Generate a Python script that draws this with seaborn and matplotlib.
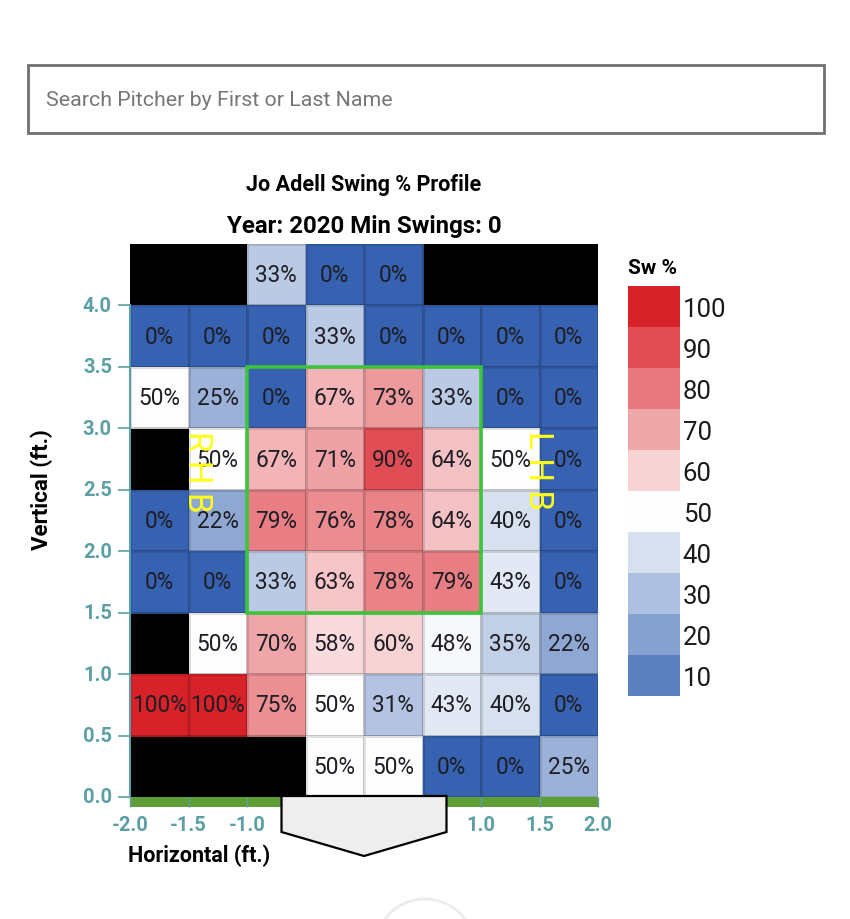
import numpy as np
import pandas as pd
import matplotlib
matplotlib.use("Agg")
import matplotlib.pyplot as plt
import seaborn as sns
from matplotlib.colors import LinearSegmentedColormap
from matplotlib.patches import Rectangle, Polygon, Ellipse

plt.rcParams['font.family'] = ['Roboto', 'DejaVu Sans']

# ---------------- data ----------------
x_edges = [-2.0, -1.5, -1.0, -0.5, 0.0, 0.5, 1.0, 1.5, 2.0]
y_edges = [4.5, 4.0, 3.5, 3.0, 2.5, 2.0, 1.5, 1.0, 0.5, 0.0]   # top to bottom
x_tick_labels = ["-2.0", "-1.5", "-1.0", "-0.5", "0.0", "0.5", "1.0", "1.5", "2.0"]
y_tick_labels = ["4.0", "3.5", "3.0", "2.5", "2.0", "1.5", "1.0", "0.5", "0.0"]
nan = np.nan
row_40_45 = [nan, nan, 33, 0, 0, nan, nan, nan]
row_35_40 = [0, 0, 0, 33, 0, 0, 0, 0]
row_30_35 = [50, 25, 0, 67, 73, 33, 0, 0]
row_25_30 = [nan, 50, 67, 71, 90, 64, 50, 0]
row_20_25 = [0, 22, 79, 76, 78, 64, 40, 0]
row_15_20 = [0, 0, 33, 63, 78, 79, 43, 0]
row_10_15 = [nan, 50, 70, 58, 60, 48, 35, 22]
row_05_10 = [100, 100, 75, 50, 31, 43, 40, 0]
row_00_05 = [nan, nan, nan, 50, 50, 0, 0, 25]
legend_values = [100, 90, 80, 70, 60, 50, 40, 30, 20, 10]
strike_zone_x = (-1.0, 1.0)
strike_zone_y = (1.5, 3.5)
plate_x = (-0.705, 0.705)

rows = [row_40_45, row_35_40, row_30_35, row_25_30, row_20_25,
        row_15_20, row_10_15, row_05_10, row_00_05]
df = pd.DataFrame(rows, index=y_edges[1:], columns=x_edges[:-1])
annot = df.map(lambda v: "" if pd.isna(v) else f"{int(v)}%")

cmap = LinearSegmentedColormap.from_list("sw", ["#3662b1", "#ffffff", "#d8222a"])
teal = "#5c9fa5"

W, H = 850, 920
fig = plt.figure(figsize=(W / 100, H / 100), dpi=100)

def fx(px):
    return px / W

def fy(py):
    return 1 - py / H

# search box
fig.patches.append(Rectangle((fx(28), fy(134)), fx(824) - fx(28), fy(66) - fy(134),
                             transform=fig.transFigure, fill=False,
                             edgecolor="#707070", lw=2))
fig.text(fx(46), fy(100), "Search Pitcher by First or Last Name", color="#767676",
         fontsize=15.4, ha="left", va="center")

# titles
fig.text(fx(364), fy(185), "Jo Adell Swing % Profile", fontsize=15.5,
         fontweight="bold", ha="center", va="center")
fig.text(fx(364), fy(226), "Year: 2020 Min Swings: 0", fontsize=17.3,
         fontweight="bold", ha="center", va="center")

# main heatmap
ax = fig.add_axes([fx(130), fy(798), fx(598) - fx(130), fy(245) - fy(798)])
ax.set_facecolor("black")
sns.heatmap(df, ax=ax, cmap=cmap, vmin=0, vmax=100, cbar=False,
            annot=annot.values, fmt="",
            annot_kws=dict(fontsize=16.3, color="#1e1e24"),
            linewidths=0.8, linecolor=(0, 0, 0, 0.12))

dx = x_edges[1] - x_edges[0]
dy = y_edges[0] - y_edges[1]

def xi(v):
    return (v - x_edges[0]) / dx

def yi(v):
    return (y_edges[0] - v) / dy

ax.set_xticks([xi(v) for v in x_edges])
ax.set_xticklabels(x_tick_labels)
ax.set_yticks([yi(v) for v in y_edges[1:]])
ax.set_yticklabels(y_tick_labels, rotation=0)
ax.tick_params(axis="x", colors=teal, length=7.2, width=1, pad=6, labelsize=14.5, rotation=0)
ax.tick_params(axis="y", colors=teal, length=9, width=1.2, pad=4, labelsize=14.5)
for t in ax.get_xticklabels() + ax.get_yticklabels():
    t.set_fontweight("bold")
ax.set_xlabel("")
ax.set_ylabel("")
ax.spines["left"].set_visible(True)
ax.spines["left"].set_color(teal)
ax.spines["left"].set_linewidth(1.5)
ax.spines["left"].set_bounds(yi(4.0), yi(0.0))

# green ground strip
row_px = (798 - 245) / len(rows)
strip_h = 10 / row_px
ax.add_patch(Rectangle((0, len(rows)), len(x_edges) - 1, strip_h, facecolor="#5f9e34",
                       edgecolor="none", clip_on=False, zorder=1.2))

# strike zone
ax.add_patch(Rectangle((xi(strike_zone_x[0]), yi(strike_zone_y[1])),
                       xi(strike_zone_x[1]) - xi(strike_zone_x[0]),
                       yi(strike_zone_y[0]) - yi(strike_zone_y[1]),
                       fill=False, edgecolor="#3cc43c", lw=2.6, zorder=6))

# batter side labels
ax.text(xi(-1.43), yi(3.0) + 0.02, "R H B", rotation=-90, color="#ffff1a", fontsize=24,
        fontweight="normal", ha="center", va="top", zorder=7)
ax.text(xi(1.485), yi(3.0) + 0.02, "L H B", rotation=-90, color="#ffff1a", fontsize=24,
        fontweight="normal", ha="center", va="top", zorder=7)

# home plate
ybase = len(rows)
plate = Polygon([(xi(plate_x[0]), ybase - 1 / row_px), (xi(plate_x[1]), ybase - 1 / row_px),
                 (xi(plate_x[1]), ybase + 35 / row_px), (xi(0.0), ybase + 59 / row_px),
                 (xi(plate_x[0]), ybase + 35 / row_px)],
                closed=True, facecolor="#eeeeee", edgecolor="black", lw=1.6,
                clip_on=False, zorder=10)
ax.add_patch(plate)

# axis labels
fig.text(fx(42), fy(490), "Vertical (ft.)", rotation=90, fontsize=16,
         fontweight="bold", ha="center", va="center")
fig.text(fx(128), fy(856), "Horizontal (ft.)", fontsize=15.5,
         fontweight="bold", ha="left", va="center")

# legend
lax = fig.add_axes([fx(628), fy(697), fx(680) - fx(628), fy(287) - fy(697)])
ldf = pd.DataFrame({"Sw %": legend_values}, index=legend_values)
sns.heatmap(ldf, ax=lax, cmap=cmap, vmin=0, vmax=100, cbar=False,
            linewidths=0, xticklabels=False)
lax.yaxis.tick_right()
lax.set_yticks(np.arange(len(legend_values)) + 0.5)
lax.set_yticklabels([str(v) for v in legend_values], rotation=0)
lax.tick_params(axis="y", length=0, pad=2, labelsize=18.5, labelcolor="#1a1a1a")
lax.set_ylabel("")
lax.set_xlabel("")
fig.text(fx(628), fy(268), "Sw %", fontsize=15, fontweight="bold", ha="left", va="center")

# faint circle at bottom
fig.patches.append(Ellipse((fx(425), fy(950)), 100 / W, 100 / H, transform=fig.transFigure,
                           fill=False, edgecolor="#ececec", lw=2))

fig.savefig("out.png", dpi=100)
